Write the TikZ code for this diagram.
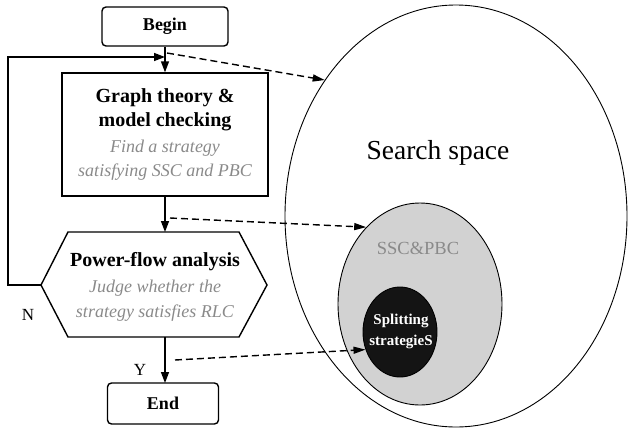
\documentclass[tikz,border=0pt]{standalone}
\usepackage{fontspec}
\setmainfont{Liberation Serif}
\usetikzlibrary{arrows.meta,shapes.geometric}
\definecolor{subgray}{HTML}{8A8A8A}
\definecolor{setgray}{HTML}{D2D2D2}
\begin{document}
\begin{tikzpicture}[x=1pt,y=-1pt,
  flowbox/.style={draw, line width=1.4pt, inner sep=0pt},
  title/.style={font=\fontsize{18}{24}\selectfont\bfseries},
  flowarrow/.style={line width=1.4pt, -{Triangle[length=11pt,width=8pt]}},
  dasharrow/.style={line width=1.4pt, dash pattern=on 7pt off 4pt, -{Triangle[length=12pt,width=7pt]}},
  setshape/.style={draw, ellipse, line width=0.9pt, inner sep=0pt}]
\useasboundingbox (0,0) rectangle (630,429);
% flowchart
\node[flowbox, rounded corners=4pt, minimum width=126pt, minimum height=39pt, title] (begin) at (165,26.5) {Begin};
\node[flowbox, minimum width=206pt, minimum height=123pt, align=center, font=\fontsize{18}{23.5}\selectfont] (graph) at (165,134.5)
  {{\fontsize{20}{22}\selectfont\bfseries Graph theory \&}\\
   {\fontsize{20}{22}\selectfont\bfseries model checking}\\[3pt]
   {\itshape\color{subgray} Find a strategy}\\
   {\itshape\color{subgray} satisfying SSC and PBC}};
\draw[line width=1.4pt, line join=miter] (68,232) -- (239,232) -- (267,285) -- (239,337) -- (68,337) -- (41,285) -- cycle;
\node[align=center, inner sep=0pt, minimum width=171pt, minimum height=105pt, font=\fontsize{18}{25.5}\selectfont] (hex) at (155,287)
  {{\fontsize{20}{24}\selectfont\bfseries Power-flow analysis}\\
   {\itshape\color{subgray} Judge whether the}\\
   {\itshape\color{subgray} strategy satisfies RLC}};
\coordinate (hexW) at (41,285);
\node[flowbox, rounded corners=4pt, minimum width=111pt, minimum height=41pt, title] (end) at (163,403.5) {End};
\coordinate (loopin) at (165,57);
\draw[flowarrow] (begin.south) -- (graph.north);
\draw[flowarrow] (graph.south) -- (165,232);
\draw[flowarrow] (165,337) -- (165,383);
\draw[flowarrow] (hexW) -- (8,285) -- (8,57) -- (loopin);
\node[font=\fontsize{17}{17}\selectfont] (nlab) at (28,315) {N};
\node[font=\fontsize{17}{17}\selectfont] (ylab) at (140,370) {Y};
% sets
\node[setshape, minimum width=342pt, minimum height=422pt] (space) at (456,216) {};
\node[font=\fontsize{27.5}{27}\selectfont] (spacelab) at (438,153) {Search space};
\node[setshape, fill=setgray, minimum width=164pt, minimum height=202pt] (ssc) at (420,304) {};
\node[font=\fontsize{18.5}{18}\selectfont, text=subgray] (ssclab) at (418,248) {SSC\&PBC};
\node[setshape, fill=black!92, minimum width=74pt, minimum height=90pt] (split) at (400,332) {};
\node[align=center, text=white, font=\fontsize{15}{21}\selectfont\bfseries] (splitlab) at (401,331) {Splitting\\strategieS};
% dashed links
\coordinate (d1) at (167,53);
\coordinate (d2) at (170,218);
\coordinate (d3) at (175,360);
\draw[dasharrow] (d1) -- (space.134);
\draw[dasharrow] (d2) -- (ssc.125);
\draw[dasharrow] (d3) -- (split.207);
\end{tikzpicture}
\end{document}
